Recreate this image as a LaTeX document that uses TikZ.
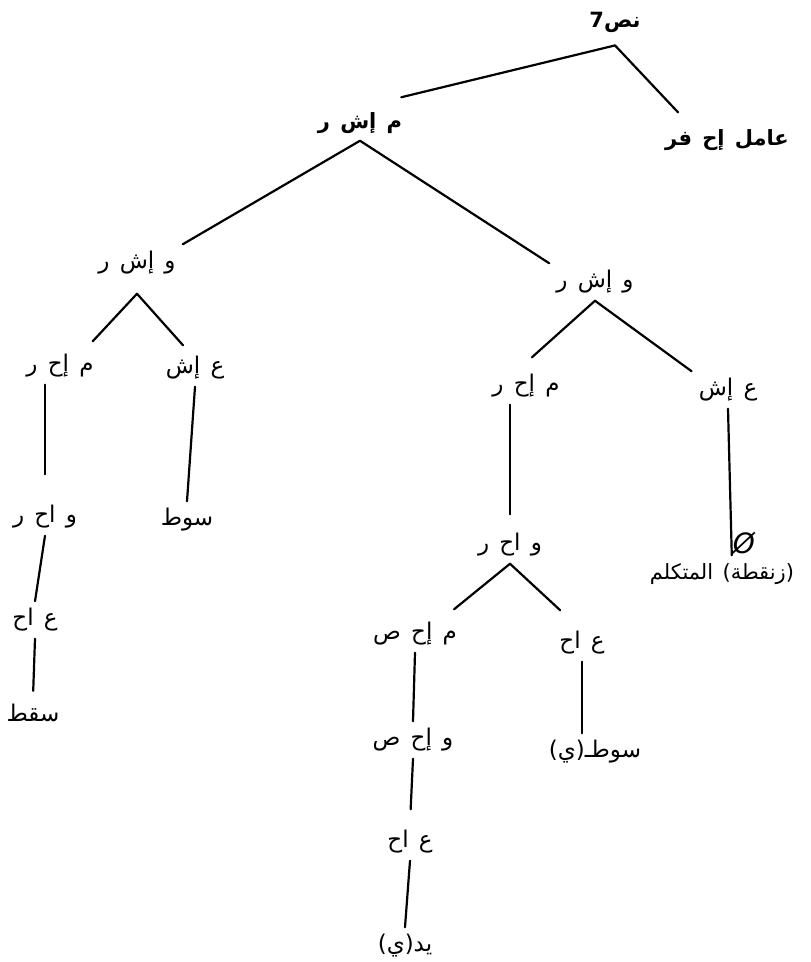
\documentclass[tikz,border=0pt]{standalone}
\usepackage{fontspec}
\newfontfamily\arabicfont[Script=Arabic,WordSpace=1.4]{DejaVu Sans}
\TeXXeTstate=1
\newcommand{\artext}[1]{\arabicfont\beginR #1\endR}

\begin{document}
\begin{tikzpicture}[x=1pt,y=-1pt,line cap=round,line join=round,
    lbl/.style={inner sep=7pt,font=\fontsize{23}{26}\selectfont},
    headlbl/.style={lbl,font=\fontsize{21}{24}\selectfont\bfseries},
    branch/.style={line width=2.2pt}]
    \useasboundingbox (0,0) rectangle (811,962);

    \node[headlbl] (nass) at (615,22) {\artext{نص7}};
    \node[headlbl] (mishr) at (360,123) {\artext{م إش ر}};
    \node[headlbl] (amil) at (727,140) {\artext{عامل إح فر}};

    \node[lbl] (lwishr) at (137,263) {\artext{و إش ر}};
    \node[lbl] (lmihr) at (60,366) {\artext{م إح ر}};
    \node[lbl] (lish) at (195,368) {\artext{ع إش}};
    \node[lbl] (lwahr) at (45,517) {\artext{و اح ر}};
    \node[lbl] (lah) at (35,620) {\artext{ع اح}};
    \node[lbl] (lsaqt) at (33,713) {\artext{سقط}};
    \node[lbl] (lsawt) at (187,520) {\artext{سوط}};

    \node[lbl] (rwishr) at (595,282) {\artext{و إش ر}};
    \node[lbl] (rmihr) at (526,386) {\artext{م إح ر}};
    \node[lbl] (rish) at (728,390) {\artext{ع إش}};
    \node[lbl] (rwahr) at (510,545) {\artext{و اح ر}};
    \node[lbl] (rmihs) at (415,634) {\artext{م إح ص}};
    \node[lbl] (rah) at (582,643) {\artext{ع اح}};
    \node[lbl] (rwihs) at (413,740) {\artext{و إح ص}};
    \node[lbl] (rahb) at (410,842) {\artext{ع اح}};
    \node[lbl] (ryad) at (405,946) {\artext{يد(ي)}};
    \node[lbl] (rsawt) at (595,752) {\artext{سوطـ(ي)}};
    \node[lbl,inner sep=1pt,font=\fontsize{28}{30}\selectfont\itshape] (nullmark) at (744,543) {\arabicfont Ø};
    \node[lbl,inner sep=1pt,font=\fontsize{21}{24}\selectfont] (mutak) at (722,574) {\artext{(زنقطة) المتكلم}};

    \draw[branch] ([yshift=-6pt]nass.south) -- ([xshift=-8pt,yshift=8pt]mishr.north east);
    \draw[branch] ([yshift=-6pt]nass.south) -- ([xshift=20pt,yshift=10pt]amil.north west);
    \draw[branch] (mishr.south) -- (lwishr.north east);
    \draw[branch] (mishr.south) -- (rwishr.north west);

    \draw[branch] ([yshift=-12pt]lwishr.south) -- ([xshift=-8pt,yshift=6pt]lmihr.north east);
    \draw[branch] ([yshift=-12pt]lwishr.south) -- ([xshift=-12pt,yshift=4pt]lish.north);
    \draw[branch,shorten >=24pt] (lmihr.south -| lwahr) -- (lwahr.north);
    \draw[branch] (lwahr.south) -- (lah.north);
    \draw[branch,shorten >=6pt] (lah.south) -- (lsaqt.north);
    \draw[branch] (lish.south) -- (lsawt.north);

    \draw[branch] (rwishr.south) -- ([xshift=6pt,yshift=10pt]rmihr.north);
    \draw[branch] (rwishr.south) -- (rish.north west);
    \draw[branch,shorten >=12pt] (rmihr.south -| rwahr) -- (rwahr.north);
    \draw[branch] (rwahr.south) -- ([xshift=-10pt,yshift=6pt]rmihs.north east);
    \draw[branch] (rwahr.south) -- ([xshift=8pt,yshift=14pt]rah.north west);
    \draw[branch] (rmihs.south) -- (rwihs.north);
    \draw[branch,shorten >=14pt] (rwihs.south) -- (rahb.north);
    \draw[branch] (rahb.south) -- (ryad.north);
    \draw[branch] (rah.south) -- (rah.south |- rsawt.north);
    \draw[branch] (rish.south) -- (nullmark.south west);
\end{tikzpicture}
\end{document}
